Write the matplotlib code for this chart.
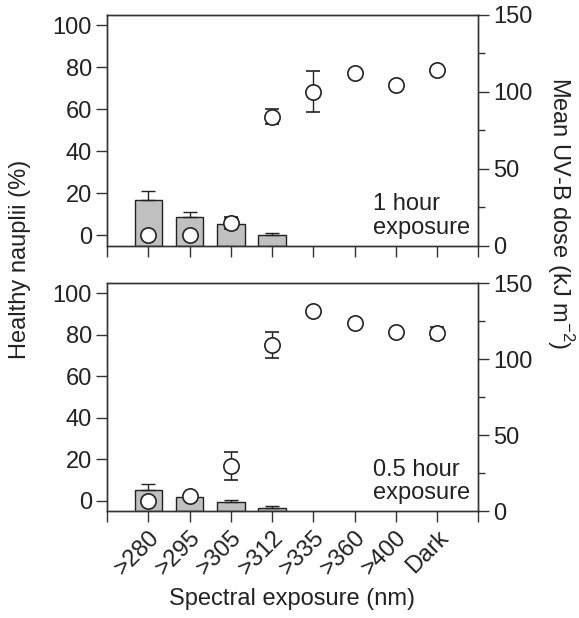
import numpy as np
import matplotlib.pyplot as plt
from matplotlib.ticker import MultipleLocator

plt.rcParams['font.family'] = ['Liberation Sans', 'DejaVu Sans']

categories = ['>280', '>295', '>305', '>312', '>335', '>360', '>400', 'Dark']

# 1 hour exposure
dose_1h = [30, 18.6, 14.1, 6.9]
dose_1h_err = [5.8, 3.7, 4.0, 1.7]
healthy_1h = [0.3, 0.3, 5.9, 56.5, 68.5, 77.3, 71.8, 78.9]
healthy_1h_err = [1, 1, 3, 3.5, 9.7, 1, 1, 1]

# 0.5 hour exposure
dose_05h = [13.8, 9.0, 6.1, 2.2]
dose_05h_err = [3.8, 0.8, 0.9, 0.9]
healthy_05h = [0.0, 2.4, 16.8, 75.0, 91.5, 85.6, 81.5, 80.8]
healthy_05h_err = [1, 1, 6.6, 6.3, 1, 1, 1, 3]

panels = [
    (dose_1h, dose_1h_err, healthy_1h, healthy_1h_err, '1 hour\nexposure'),
    (dose_05h, dose_05h_err, healthy_05h, healthy_05h_err, '0.5 hour\nexposure'),
]

FS = 17
TXT = '#222222'
fig = plt.figure(figsize=(5.79, 6.18), dpi=100)
boxes = [[0.185, 0.602, 0.641, 0.374], [0.185, 0.173, 0.641, 0.369]]

x = np.arange(len(categories))
for i, (dose, dose_err, healthy, healthy_err, note) in enumerate(panels):
    ax = fig.add_axes(boxes[i])
    ax2 = ax.twinx()
    # bars on the right (dose) axis
    xb = x[:len(dose)]
    ax2.bar(xb, dose, width=0.67, color='#c0c0c0', edgecolor='#222222', linewidth=1,
            yerr=[np.zeros(len(dose)), dose_err], capsize=5,
            error_kw=dict(ecolor='#222222', elinewidth=1, capthick=1))
    ax2.set_ylim(0, 150)
    ax2.yaxis.set_major_locator(MultipleLocator(50))
    ax2.yaxis.set_minor_locator(MultipleLocator(25))

    # circles on the left (healthy %) axis, drawn on top
    ax.set_zorder(ax2.get_zorder() + 1)
    ax.patch.set_visible(False)
    ax.errorbar(x, healthy, yerr=healthy_err, fmt='o', ms=11, mfc='white', mec='#222222',
                mew=1.2, ecolor='#222222', elinewidth=1, capsize=5, capthick=1)
    ax.set_ylim(-5, 105)
    ax.set_yticks([0, 20, 40, 60, 80, 100])
    ax.set_xlim(-1, 8)
    ax.set_xticks(np.arange(-1, 9))
    if i == 1:
        ax.set_xticklabels([''] + categories + [''], rotation=45, ha='right',
                           rotation_mode='anchor')
    else:
        ax.set_xticklabels([])

    for a in (ax, ax2):
        a.tick_params(direction='out', length=8, width=1, labelsize=FS, pad=3,
                      color='#333333', labelcolor=TXT)
        for s in a.spines.values():
            s.set_linewidth(1)
            s.set_color('#333333')
    ax2.tick_params(which='minor', direction='out', length=5, width=1, color='#333333')

    ax.text(0.978, 0.03, note, transform=ax.transAxes, ha='right', va='bottom',
            multialignment='left', fontsize=FS, color=TXT, linespacing=1.1)

fig.text(0.035, 0.58, 'Healthy nauplii (%)', rotation=90, ha='center', va='center',
         fontsize=FS, color=TXT)
fig.text(0.968, 0.655, 'Mean UV-B dose (kJ m$^{\\mathregular{-2}}$)', rotation=270,
         ha='center', va='center', fontsize=FS, color=TXT)
fig.text(0.505, 0.03, 'Spectral exposure (nm)', ha='center', va='center', fontsize=FS,
         color=TXT)

fig.savefig('out.png', dpi=100)
